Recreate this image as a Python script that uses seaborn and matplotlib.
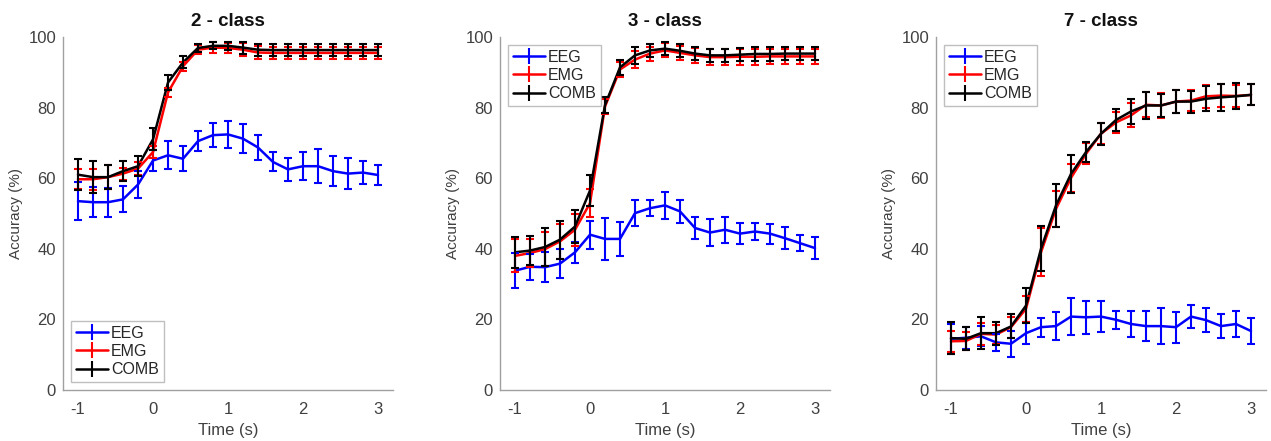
import numpy as np
import pandas as pd
import seaborn as sns
import matplotlib
matplotlib.use("Agg")
import matplotlib.pyplot as plt

time = [-1.0, -0.8, -0.6, -0.4, -0.2, 0.0, 0.2, 0.4, 0.6, 0.8, 1.0,
        1.2, 1.4, 1.6, 1.8, 2.0, 2.2, 2.4, 2.6, 2.8, 3.0]

titles = ["2 - class", "3 - class", "7 - class"]
series_names = ["EEG", "EMG", "COMB"]

# ---- 2-class ----
eeg2 = [53.5, 53.2, 53.2, 54.0, 58.2, 65.0, 66.5, 65.5, 70.5, 72.2, 72.4,
        71.2, 68.7, 64.6, 62.5, 63.4, 63.4, 62.0, 61.3, 61.6, 60.9]
eeg2_err = [5.3, 4.3, 4.1, 3.7, 3.7, 3.1, 4.0, 3.6, 2.9, 3.4, 3.8,
            4.1, 3.6, 2.7, 3.3, 4.0, 4.9, 4.3, 4.3, 3.3, 2.9]
emg2 = [59.7, 59.7, 60.3, 61.3, 62.7, 67.4, 84.3, 91.7, 96.4, 97.0, 96.9,
        96.4, 95.6, 95.5, 95.5, 95.5, 95.5, 95.5, 95.5, 95.5, 95.5]
emg2_err = [2.9, 3.0, 3.5, 1.7, 1.9, 1.7, 1.2, 1.3, 1.3, 1.5, 1.5,
            1.8, 1.8, 1.8, 1.8, 1.8, 1.8, 1.8, 1.8, 1.8, 1.8]
comb2 = [61.0, 60.3, 60.3, 62.0, 63.4, 71.0, 87.1, 92.8, 96.9, 97.5, 97.5,
         97.0, 96.4, 96.3, 96.3, 96.3, 96.3, 96.3, 96.3, 96.3, 96.3]
comb2_err = [4.3, 4.5, 3.3, 2.9, 2.8, 3.1, 2.1, 1.7, 1.2, 1.0, 1.1,
             1.7, 1.7, 1.7, 1.7, 1.7, 1.7, 1.7, 1.7, 1.7, 1.7]

# ---- 3-class ----
eeg3 = [33.8, 34.9, 34.8, 35.8, 39.0, 44.0, 42.8, 42.8, 50.1, 51.5, 52.3,
        50.6, 45.9, 44.6, 45.4, 44.3, 44.9, 44.3, 43.0, 41.6, 40.2]
eeg3_err = [5.0, 3.7, 4.2, 4.2, 3.0, 4.0, 5.9, 4.7, 3.6, 2.3, 3.9,
            3.3, 3.2, 3.8, 3.7, 3.0, 2.4, 2.8, 3.1, 2.3, 3.1]
emg3 = [38.0, 38.8, 39.9, 42.1, 45.4, 52.9, 80.3, 90.8, 93.6, 95.3, 96.2,
        95.5, 94.8, 94.3, 94.3, 94.4, 94.4, 94.5, 94.5, 94.5, 94.5]
emg3_err = [4.7, 4.0, 4.8, 5.0, 4.5, 4.0, 2.2, 2.2, 2.5, 2.0, 2.0,
            2.0, 2.2, 2.2, 2.2, 2.2, 2.2, 2.2, 2.2, 2.2, 2.2]
comb3 = [39.0, 39.5, 40.5, 42.6, 46.3, 56.5, 80.7, 91.4, 94.8, 96.2, 96.7,
         96.1, 95.3, 94.8, 94.8, 95.0, 95.2, 95.2, 95.3, 95.3, 95.3]
comb3_err = [4.4, 4.1, 5.4, 5.4, 4.6, 4.3, 2.2, 2.2, 2.4, 1.9, 1.9,
             1.9, 1.9, 1.9, 1.9, 1.9, 1.9, 1.9, 1.9, 1.9, 1.9]

# ---- 7-class ----
eeg7 = [14.5, 14.8, 15.2, 13.5, 13.1, 16.1, 17.8, 18.1, 20.8, 20.6, 20.8,
        19.9, 18.7, 18.1, 18.1, 17.8, 20.8, 19.8, 18.1, 18.7, 16.7]
eeg7_err = [4.2, 3.1, 2.8, 2.5, 3.7, 3.1, 2.7, 3.9, 5.2, 4.6, 4.4,
            2.6, 3.8, 4.2, 5.1, 4.4, 3.2, 3.3, 3.4, 3.8, 3.7]
emg7 = [13.8, 13.9, 15.9, 15.7, 17.8, 23.0, 39.0, 51.3, 60.1, 66.9, 72.6,
        75.8, 77.8, 80.8, 80.6, 81.7, 82.0, 83.2, 83.4, 83.3, 83.6]
emg7_err = [3.0, 2.5, 3.2, 2.8, 3.0, 3.6, 6.8, 5.2, 4.0, 3.0, 3.0,
            3.0, 3.4, 3.6, 3.6, 3.3, 3.0, 3.3, 3.3, 3.2, 3.0]
comb7 = [14.7, 14.5, 16.1, 16.1, 18.0, 23.9, 40.0, 52.3, 61.2, 67.4, 72.6,
         76.5, 78.9, 80.6, 80.6, 81.7, 81.7, 82.5, 82.9, 83.2, 83.6]
comb7_err = [4.5, 3.3, 4.5, 3.3, 3.4, 5.0, 6.4, 6.1, 5.3, 2.8, 3.1,
             3.2, 3.5, 3.9, 3.3, 3.3, 3.1, 3.6, 3.8, 3.7, 3.0]

panels = [
    (eeg2, eeg2_err, emg2, emg2_err, comb2, comb2_err),
    (eeg3, eeg3_err, emg3, emg3_err, comb3, comb3_err),
    (eeg7, eeg7_err, emg7, emg7_err, comb7, comb7_err),
]
legend_locs = ["lower left", "upper left", "upper left"]
colors = ["#0000ff", "#ff0000", "#000000"]

sns.set_theme(style="white")
plt.rcParams["font.family"] = ["Liberation Sans", "DejaVu Sans"]
plt.rcParams["axes.unicode_minus"] = False

fig = plt.figure(figsize=(12.71, 4.41), dpi=100)
lefts = [63 / 1271, 500 / 1271, 936 / 1271]
bottom = 1 - 390 / 441
height = (390 - 37) / 441
width = 330 / 1271

axis_col = "#a0a0a0"
text_col = "#404040"

for i, (vals, left) in enumerate(zip(panels, lefts)):
    ax = fig.add_axes([left, bottom, width, height])
    rows = []
    for name, (m, e) in zip(series_names, [(vals[0], vals[1]), (vals[2], vals[3]), (vals[4], vals[5])]):
        for t, mv, ev in zip(time, m, e):
            rows.append({"Time": t, "Accuracy": mv, "err": ev, "Signal": name})
    df = pd.DataFrame(rows)
    sns.lineplot(data=df, x="Time", y="Accuracy", hue="Signal",
                 palette=dict(zip(series_names, colors)), linewidth=1.8,
                 ax=ax, legend=False)
    for name, c in zip(series_names, colors):
        sub = df[df["Signal"] == name]
        ax.errorbar(sub["Time"], sub["Accuracy"], yerr=sub["err"], fmt="none",
                    ecolor=c, elinewidth=1.5, capsize=3, capthick=1.5)
    leg_handles = [ax.errorbar([], [], yerr=[], color=c, lw=1.8, capsize=3,
                               elinewidth=1.5, capthick=1.5) for c in colors]
    ax.legend(leg_handles, series_names, loc=legend_locs[i], frameon=True,
              fancybox=False, edgecolor="#b0b0b0", fontsize=11.5,
              handlelength=2.0, handletextpad=0.2, borderpad=0.3,
              labelspacing=0.2, borderaxespad=0.5)
    ax.set_xlim(-1.2, 3.2)
    ax.set_ylim(0, 100)
    ax.set_xticks([-1, 0, 1, 2, 3])
    ax.set_yticks([0, 20, 40, 60, 80, 100])
    ax.set_title(titles[i], fontsize=13.5, fontweight="bold", color="#111111", pad=8)
    ax.set_xlabel("Time (s)", fontsize=12, color=text_col, labelpad=4)
    ax.set_ylabel("Accuracy (%)", fontsize=11, color=text_col, labelpad=4)
    for s in ["top", "right"]:
        ax.spines[s].set_visible(False)
    for s in ["left", "bottom"]:
        ax.spines[s].set_color(axis_col)
        ax.spines[s].set_linewidth(1.0)
    ax.tick_params(axis="both", direction="in", length=3, width=0.8,
                   color=axis_col, labelcolor=text_col, labelsize=12, pad=5)
    ax.tick_params(axis="x", pad=9)
    ax.grid(False)

fig.savefig("out.png", dpi=100)
